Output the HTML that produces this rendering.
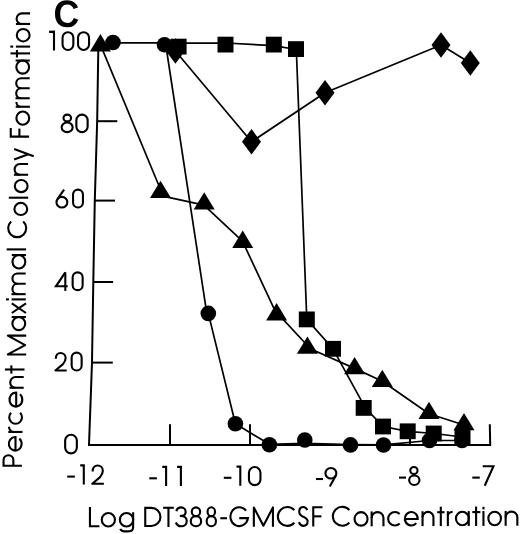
<!DOCTYPE html>
<html><head><meta charset="utf-8"><style>
html,body{margin:0;padding:0;background:#fff;overflow:hidden;}
svg{display:block;}
</style></head><body>
<svg width="520" height="534" viewBox="0 0 520 534">
<rect width="520" height="534" fill="#fff"/>
<g stroke="#000" stroke-width="2" fill="none">
<polyline points="98.6,43 98.3,50 97.2,120 94.8,200 93.3,282 92.0,362 91.0,390 89.0,444.9 490.2,444.9 489.8,424.3" fill="none" stroke-linejoin="miter"/>
<line x1="96.8" y1="121.2" x2="117.3" y2="121.2"/>
<line x1="94.8" y1="200.6" x2="115" y2="200.6"/>
<line x1="93.3" y1="282" x2="113.1" y2="282"/>
<line x1="91.9" y1="362.6" x2="112.8" y2="362.6"/>
<line x1="170" y1="444.9" x2="170" y2="424.2"/>
<line x1="250" y1="444.9" x2="250" y2="424.2"/>
<line x1="410" y1="444.9" x2="410" y2="424.2"/>
</g>
<g stroke="#000" stroke-width="1.7" fill="none" stroke-linejoin="round">
<polyline points="100.4,44.7 160.5,189.5"/>
<polyline points="160.5,195.7 204.2,205.1"/>
<polyline points="204.2,205.4 242.7,241.3"/>
<polyline points="242.7,241.6 276.6,314.1"/>
<polyline points="276.6,312.3 307.4,345.5"/>
<polyline points="307.4,347.5 354.6,368.4 382.3,381.2 429.0,413.8 464.0,425.0"/>
<polyline points="113.0,42.8 164.5,42.9"/>
<polyline points="165.5,43.0 206.8,313.4"/>
<polyline points="208.3,313.4 235.4,423.8 269.4,444.3 304.8,443.4 350.5,444.6 383.5,444.9 429.5,440.5 462.0,440.5"/>
<polyline points="178.6,43.1 225.5,43.0 273.8,45.6 296.2,49.5"/>
<polyline points="296.3,49.1 306.8,319.4 333.0,348.8 365.3,407.9 383.0,426.5 407.7,431.3 433.7,433.5 462.5,437.0"/>
<polyline points="175.4,51.0 251.5,141.8 325.0,92.7 441.0,45.0 470.3,63.0"/>
</g>
<g fill="#000" stroke="none">
<polygon points="100.4,34.1 89.9,51.4 110.9,51.4"/>
<polygon points="160.5,180.7 150.0,198.0 171.0,198.0"/>
<polygon points="204.2,192.2 193.7,209.5 214.7,209.5"/>
<polygon points="242.7,230.6 232.2,247.9 253.2,247.9"/>
<polygon points="276.6,303.1 266.1,320.4 287.1,320.4"/>
<polygon points="307.4,336.5 296.9,353.8 317.9,353.8"/>
<polygon points="354.6,356.9 344.1,374.2 365.1,374.2"/>
<polygon points="382.3,369.7 371.8,387.0 392.8,387.0"/>
<polygon points="429.0,401.8 418.5,419.1 439.5,419.1"/>
<polygon points="464.0,413.0 453.5,430.3 474.5,430.3"/>
<circle cx="113" cy="42.5" r="7.8"/>
<circle cx="164.5" cy="44.8" r="7.8"/>
<circle cx="208.3" cy="313.4" r="7.8"/>
<circle cx="235.4" cy="423.8" r="7.8"/>
<circle cx="269.4" cy="444.8" r="7.8"/>
<circle cx="304.8" cy="440" r="7.8"/>
<circle cx="350.5" cy="444.9" r="7.8"/>
<circle cx="383.5" cy="445" r="7.8"/>
<circle cx="429.5" cy="440.5" r="7.8"/>
<circle cx="462" cy="440.5" r="7.8"/>
<rect x="170.6" y="38.7" width="16" height="15.8"/>
<rect x="217.5" y="36.7" width="16" height="15.8"/>
<rect x="265.8" y="36.7" width="16" height="15.8"/>
<rect x="288.0" y="41.2" width="16" height="15.8"/>
<rect x="298.8" y="311.5" width="16" height="15.8"/>
<rect x="325.0" y="340.9" width="16" height="15.8"/>
<rect x="355.7" y="400.0" width="16" height="15.8"/>
<rect x="375.0" y="418.6" width="16" height="15.8"/>
<rect x="399.7" y="423.4" width="16" height="15.8"/>
<rect x="425.7" y="425.6" width="16" height="15.8"/>
<rect x="454.5" y="429.1" width="16" height="15.8"/>
<polygon points="175.4,38.3 184.9,51.0 175.4,63.7 165.9,51.0"/>
<polygon points="251.5,129.1 261.0,141.8 251.5,154.5 242.0,141.8"/>
<polygon points="325.0,80.0 334.5,92.7 325.0,105.4 315.5,92.7"/>
<polygon points="441.0,32.3 450.5,45.0 441.0,57.7 431.5,45.0"/>
<polygon points="470.3,50.3 479.8,63.0 470.3,75.7 460.8,63.0"/>
</g>
<g>
<path fill="#000" transform="matrix(0.017401 0 0 -0.018621 53.538 26.928)" d="M795 212Q1062 212 1166 480L1423 383Q1340 179 1179.5 79.5Q1019 -20 795 -20Q455 -20 269.5 172.5Q84 365 84 711Q84 1058 263.0 1244.0Q442 1430 782 1430Q1030 1430 1186.0 1330.5Q1342 1231 1405 1038L1145 967Q1112 1073 1015.5 1135.5Q919 1198 788 1198Q588 1198 484.5 1074.0Q381 950 381 711Q381 468 487.5 340.0Q594 212 795 212Z"/>
</g>
<g fill="none" stroke="#000" stroke-width="2.1" stroke-linecap="butt">
<path d="M49.10,31.90 L54.00,31.65 L54.00,50.40" stroke-linejoin="miter"/>
<rect x="62.55" y="32.25" width="10.80" height="17.70" rx="5.40" ry="5.40"/>
<rect x="78.05" y="32.25" width="11.00" height="17.70" rx="5.50" ry="5.50"/>
<ellipse cx="67.25" cy="118.00" rx="3.80" ry="3.35"/><ellipse cx="67.15" cy="127.30" rx="5.50" ry="4.85"/>
<rect x="76.35" y="114.65" width="11.30" height="17.50" rx="5.65" ry="5.65"/>
<ellipse cx="61.90" cy="202.20" rx="5.45" ry="5.35"/><path d="M64.10,189.60 L57.41,199.17"/>
<rect x="73.05" y="189.65" width="9.90" height="17.80" rx="4.95" ry="4.95"/>
<path d="M65.30,290.90 L65.30,272.35"/><path d="M65.30,272.35 L55.95,286.30 L67.70,286.30" stroke-linejoin="miter"/>
<rect x="72.65" y="272.35" width="10.00" height="17.80" rx="5.00" ry="5.00"/>
<path d="M55.76,358.72 C55.76,355.05 57.92,352.95 60.50,352.95 C63.38,352.95 65.65,355.22 65.65,358.02 C65.65,360.30 64.62,362.05 62.97,364.15 L55.35,370.45 L66.70,370.45" stroke-linejoin="round"/>
<rect x="71.65" y="352.65" width="10.00" height="17.80" rx="5.00" ry="5.00"/>
<rect x="65.15" y="434.75" width="11.70" height="18.60" rx="5.85" ry="5.85"/>
<path d="M67.20,476.60 H74.90"/>
<path d="M80.20,465.35 L83.80,465.35 L83.80,484.60" stroke-linejoin="miter"/>
<path d="M92.67,471.49 C92.67,467.65 94.90,465.45 97.55,465.45 C100.52,465.45 102.85,467.83 102.85,470.76 C102.85,473.14 101.79,474.97 100.09,477.16 L92.25,483.75 L103.90,483.75" stroke-linejoin="round"/>
<path d="M149.30,478.30 H156.90"/>
<path d="M162.30,466.85 L166.10,466.85 L166.10,486.00" stroke-linejoin="miter"/>
<path d="M177.10,466.85 L180.90,466.85 L180.90,486.00" stroke-linejoin="miter"/>
<path d="M223.80,477.80 H231.40"/>
<path d="M236.50,466.65 L240.30,466.65 L240.30,485.80" stroke-linejoin="miter"/>
<rect x="248.95" y="466.95" width="11.50" height="18.20" rx="5.75" ry="5.75"/>
<path d="M316.00,479.00 H323.00"/>
<ellipse cx="330.90" cy="473.25" rx="5.45" ry="5.30"/><path d="M329.80,486.60 L335.72,475.73"/>
<path d="M399.00,477.60 H406.00"/>
<ellipse cx="413.90" cy="470.60" rx="3.65" ry="3.55"/><ellipse cx="414.30" cy="480.20" rx="5.15" ry="4.75"/>
<path d="M472.30,477.60 H479.80"/>
<path d="M482.70,466.30 L493.45,466.30 L484.70,485.70" stroke-linejoin="miter"/>
</g><g fill="none" stroke="#000" stroke-width="2.1">
<path d="M89.95,506.99 L89.95,526.24 L99.40,526.24" stroke-linejoin="miter" stroke-linecap="butt"/>
<ellipse cx="108.35" cy="519.79" rx="6.60" ry="6.75"/>
<ellipse cx="126.50" cy="519.72" rx="6.65" ry="6.75"/>
<path d="M133.15,512.27 L133.15,526.17 C133.15,531.42 130.65,531.42 126.50,531.42 C123.30,531.42 120.80,530.42 120.30,528.82" stroke-linejoin="miter" stroke-linecap="butt"/>
<path d="M145.25,507.83 L151.35,507.83 A9.10 9.10 0 0 1 151.35,526.03 L145.25,526.03 Z" stroke-linejoin="miter" stroke-linecap="butt"/>
<path d="M163.10,507.78 L173.80,507.78" stroke-linejoin="miter" stroke-linecap="butt"/>
<path d="M168.45,507.78 L168.45,527.03" stroke-linejoin="miter" stroke-linecap="butt"/>
<path d="M176.40,511.16 C176.94,508.70 178.90,507.38 181.08,507.38 C183.70,507.38 185.66,509.27 185.66,511.92 C185.66,514.56 183.70,515.89 180.76,515.89 C184.35,515.89 186.75,517.96 186.75,520.99 C186.75,524.39 184.35,526.28 181.30,526.28 C178.90,526.28 176.72,524.77 175.85,522.50" stroke-linejoin="round" stroke-linecap="butt"/>
<ellipse cx="195.95" cy="511.74" rx="4.20" ry="4.41"/>
<ellipse cx="195.95" cy="521.19" rx="5.20" ry="5.04"/>
<ellipse cx="211.30" cy="511.69" rx="3.74" ry="4.41"/>
<ellipse cx="211.30" cy="521.14" rx="4.65" ry="5.04"/>
<path d="M220.30,518.23 L227.00,518.23" stroke-linejoin="miter" stroke-linecap="butt"/>
<path d="M245.99,510.55 A8.80 9.45 0 1 0 247.94,518.13 L239.25,518.13" stroke-linejoin="miter" stroke-linecap="butt"/>
<path d="M253.85,526.69 L253.85,507.44 L263.40,525.64 L272.95,507.44 L272.95,526.69" stroke-linejoin="round" stroke-linecap="butt"/>
<path d="M294.32,510.14 A9.45 9.45 0 1 0 294.32,522.79" stroke-linejoin="miter" stroke-linecap="butt"/>
<path d="M307.21,509.98 C306.26,507.90 304.87,506.95 303.30,506.95 C300.86,506.95 299.21,508.84 299.21,511.87 C299.21,515.27 301.39,516.03 303.30,516.78 C305.56,517.73 307.65,518.67 307.65,521.32 C307.65,524.34 305.74,525.85 303.30,525.85 C301.39,525.85 299.82,524.53 298.95,522.07" stroke-linejoin="round" stroke-linecap="butt"/>
<path d="M322.50,507.25 L313.25,507.25 L313.25,526.50" stroke-linejoin="miter" stroke-linecap="butt"/>
<path d="M313.25,516.35 L321.40,516.35" stroke-linejoin="miter" stroke-linecap="butt"/>
<path d="M349.32,509.95 A9.45 9.45 0 1 0 349.32,522.59" stroke-linejoin="miter" stroke-linecap="butt"/>
<ellipse cx="361.05" cy="518.90" rx="6.50" ry="6.75"/>
<path d="M371.65,511.39 L371.65,526.29" stroke-linejoin="miter" stroke-linecap="butt"/>
<path d="M371.65,517.99 A5.90 5.90 0 0 1 383.45,517.99 L383.45,526.29" stroke-linejoin="miter" stroke-linecap="butt"/>
<path d="M399.67,514.01 A6.75 6.75 0 1 0 399.67,523.56" stroke-linejoin="miter" stroke-linecap="butt"/>
<path d="M404.85,519.03 L417.74,519.03 A6.45 6.75 0 1 0 416.24,523.06" stroke-linejoin="miter" stroke-linecap="butt"/>
<path d="M422.55,511.22 L422.55,526.12" stroke-linejoin="miter" stroke-linecap="butt"/>
<path d="M422.55,517.37 A5.45 5.45 0 0 1 433.45,517.37 L433.45,526.12" stroke-linejoin="miter" stroke-linecap="butt"/>
<path d="M440.80,506.67 L440.80,526.07" stroke-linejoin="miter" stroke-linecap="butt"/>
<path d="M437.20,512.22 L444.50,512.22" stroke-linejoin="miter" stroke-linecap="butt"/>
<path d="M447.85,511.14 L447.85,526.04" stroke-linejoin="miter" stroke-linecap="butt"/>
<path d="M447.85,516.12 A4.75 4.28 0 0 1 452.60,511.84" stroke-linejoin="miter" stroke-linecap="butt"/>
<ellipse cx="462.35" cy="518.55" rx="6.40" ry="6.75"/>
<path d="M468.75,511.10 L468.75,526.00" stroke-linejoin="miter" stroke-linecap="butt"/>
<path d="M476.10,506.55 L476.10,525.95" stroke-linejoin="miter" stroke-linecap="butt"/>
<path d="M472.30,512.10 L480.40,512.10" stroke-linejoin="miter" stroke-linecap="butt"/>
<path d="M483.45,511.02 L483.45,525.92" stroke-linejoin="miter" stroke-linecap="butt"/>
<rect x="482.40" y="506.82" width="2.10" height="2.60" fill="#000" stroke="none"/>
<ellipse cx="494.65" cy="518.43" rx="6.30" ry="6.75"/>
<path d="M505.65,510.92 L505.65,525.82" stroke-linejoin="miter" stroke-linecap="butt"/>
<path d="M505.65,517.47 A5.85 5.85 0 0 1 517.35,517.47 L517.35,525.82" stroke-linejoin="miter" stroke-linecap="butt"/>
</g><g transform="matrix(0 -1 1 0 0 467.0)" fill="none" stroke="#000" stroke-width="2.1">
<path d="M1.25,21.90 L1.25,3.55 L7.04,3.55 A4.91 4.91 0 0 1 7.04,13.36 L1.25,13.36" stroke-linejoin="miter" stroke-linecap="butt"/>
<path d="M16.45,15.50 L29.94,15.50 A6.75 6.40 0 1 0 28.37,19.31" stroke-linejoin="miter" stroke-linecap="butt"/>
<path d="M35.05,8.30 L35.05,22.50" stroke-linejoin="miter" stroke-linecap="butt"/>
<path d="M35.05,13.73 A5.25 4.73 0 0 1 40.30,9.00" stroke-linejoin="miter" stroke-linecap="butt"/>
<path d="M54.18,11.07 A6.40 6.40 0 1 0 54.18,20.13" stroke-linejoin="miter" stroke-linecap="butt"/>
<path d="M60.45,16.20 L74.34,16.20 A6.95 6.40 0 1 0 72.72,20.01" stroke-linejoin="miter" stroke-linecap="butt"/>
<path d="M79.25,9.50 L79.25,23.70" stroke-linejoin="miter" stroke-linecap="butt"/>
<path d="M79.25,15.55 A5.35 5.35 0 0 1 89.95,15.55 L89.95,23.70" stroke-linejoin="miter" stroke-linecap="butt"/>
<path d="M97.50,4.90 L97.50,24.50" stroke-linejoin="miter" stroke-linecap="butt"/>
<path d="M93.40,11.35 L101.60,11.35" stroke-linejoin="miter" stroke-linecap="butt"/>
<path d="M112.55,26.20 L112.55,7.85 L121.95,25.15 L131.35,7.85 L131.35,26.20" stroke-linejoin="round" stroke-linecap="butt"/>
<ellipse cx="143.40" cy="18.80" rx="6.55" ry="6.40"/>
<path d="M149.95,11.70 L149.95,25.90" stroke-linejoin="miter" stroke-linecap="butt"/>
<path d="M154.00,11.80 L163.70,26.00 M163.70,11.80 L154.00,26.00" stroke-linejoin="miter" stroke-linecap="butt"/>
<path d="M167.60,11.60 L167.60,25.80" stroke-linejoin="miter" stroke-linecap="butt"/>
<rect x="166.55" y="6.00" width="2.10" height="2.90" fill="#000" stroke="none"/>
<path d="M172.85,11.50 L172.85,25.70" stroke-linejoin="miter" stroke-linecap="butt"/>
<path d="M172.85,17.38 A5.18 5.18 0 0 1 183.20,17.38 L183.20,25.70" stroke-linejoin="miter" stroke-linecap="butt"/>
<path d="M183.20,17.38 A5.18 5.18 0 0 1 193.55,17.38 L193.55,25.70" stroke-linejoin="miter" stroke-linecap="butt"/>
<ellipse cx="205.25" cy="18.90" rx="6.70" ry="6.40"/>
<path d="M211.95,11.80 L211.95,26.00" stroke-linejoin="miter" stroke-linecap="butt"/>
<path d="M217.60,6.70 L217.60,26.10" stroke-linejoin="miter" stroke-linecap="butt"/>
<path d="M245.54,11.18 A9.00 9.00 0 1 0 245.54,23.22" stroke-linejoin="miter" stroke-linecap="butt"/>
<ellipse cx="258.05" cy="20.80" rx="6.10" ry="6.40"/>
<path d="M269.30,8.80 L269.30,28.20" stroke-linejoin="miter" stroke-linecap="butt"/>
<ellipse cx="280.90" cy="21.20" rx="6.05" ry="6.40"/>
<path d="M292.25,13.90 L292.25,28.10" stroke-linejoin="miter" stroke-linecap="butt"/>
<path d="M292.25,19.95 A5.35 5.35 0 0 1 302.95,19.95 L302.95,28.10" stroke-linejoin="miter" stroke-linecap="butt"/>
<path d="M307.50,14.10 L312.80,28.30" stroke-linejoin="miter" stroke-linecap="butt"/>
<path d="M318.10,14.10 L310.78,33.70" stroke-linejoin="miter" stroke-linecap="butt"/>
<path d="M338.90,10.75 L330.35,10.75 L330.35,29.10" stroke-linejoin="miter" stroke-linecap="butt"/>
<path d="M330.35,19.40 L338.40,19.40" stroke-linejoin="miter" stroke-linecap="butt"/>
<ellipse cx="348.85" cy="22.80" rx="6.60" ry="6.40"/>
<path d="M360.25,15.70 L360.25,29.90" stroke-linejoin="miter" stroke-linecap="butt"/>
<path d="M360.25,20.77 A4.85 4.37 0 0 1 365.10,16.40" stroke-linejoin="miter" stroke-linecap="butt"/>
<path d="M368.75,15.50 L368.75,29.70" stroke-linejoin="miter" stroke-linecap="butt"/>
<path d="M368.75,21.20 A5.00 5.00 0 0 1 378.75,21.20 L378.75,29.70" stroke-linejoin="miter" stroke-linecap="butt"/>
<path d="M378.75,21.20 A5.00 5.00 0 0 1 388.75,21.20 L388.75,29.70" stroke-linejoin="miter" stroke-linecap="butt"/>
<ellipse cx="399.90" cy="22.70" rx="6.55" ry="6.40"/>
<path d="M406.45,15.60 L406.45,29.80" stroke-linejoin="miter" stroke-linecap="butt"/>
<path d="M413.60,10.50 L413.60,30.10" stroke-linejoin="miter" stroke-linecap="butt"/>
<path d="M409.50,16.95 L417.00,16.95" stroke-linejoin="miter" stroke-linecap="butt"/>
<path d="M420.40,15.90 L420.40,30.10" stroke-linejoin="miter" stroke-linecap="butt"/>
<rect x="419.35" y="10.30" width="2.10" height="2.90" fill="#000" stroke="none"/>
<ellipse cx="431.80" cy="23.20" rx="6.25" ry="6.40"/>
<path d="M443.05,15.90 L443.05,30.10" stroke-linejoin="miter" stroke-linecap="butt"/>
<path d="M443.05,21.90 A5.30 5.30 0 0 1 453.65,21.90 L453.65,30.10" stroke-linejoin="miter" stroke-linecap="butt"/>
</g>
</svg>
</body></html>
